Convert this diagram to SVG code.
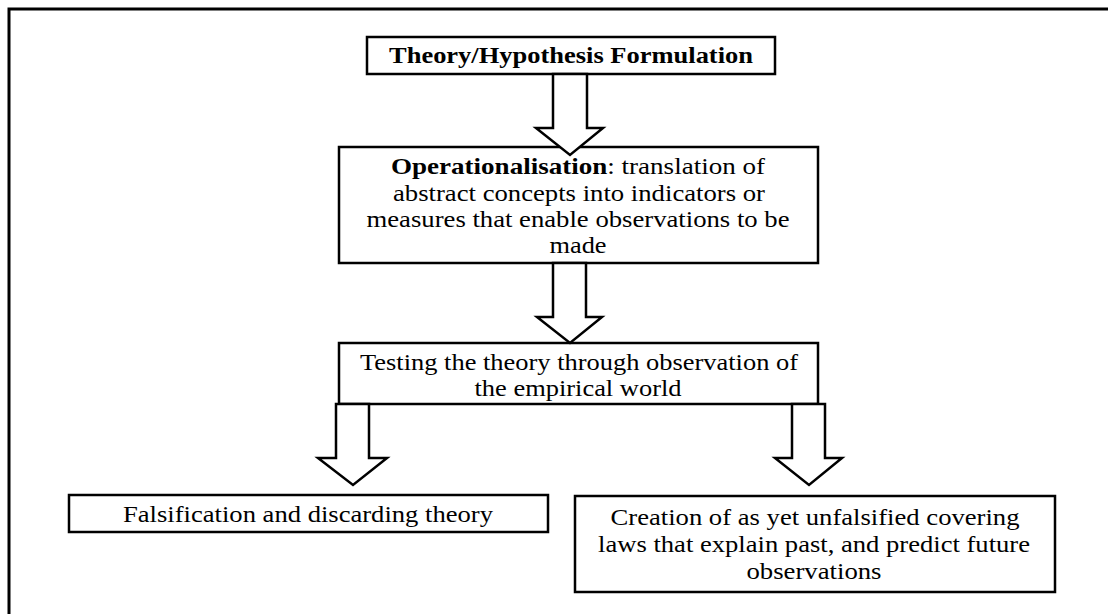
<svg xmlns="http://www.w3.org/2000/svg" width="1108" height="614" viewBox="0 0 1108 614">
  <style>
    .box { fill: #fff; stroke: #000; stroke-width: 2.5; }
    .arrow { fill: #fff; stroke: #000; stroke-width: 2.5; stroke-linejoin: miter; }
    text { font-family: "Liberation Serif", "Times New Roman", serif; font-size: 23px; fill: #000; text-anchor: middle; }
    .bold { font-weight: bold; }
  </style>
  <rect width="1108" height="614" fill="#fff"/>
  <!-- outer frame -->
  <rect x="9" y="9" width="1120" height="630" fill="none" stroke="#000" stroke-width="3"/>

  <g id="theory">
    <rect class="box" x="367" y="37" width="408" height="37"/>
    <text class="bold" x="571" y="63" textLength="364" lengthAdjust="spacingAndGlyphs">Theory/Hypothesis Formulation</text>
  </g>

  <g id="operationalisation">
    <rect class="box" x="339" y="147" width="479" height="116"/>
    <text x="578" y="174" textLength="374" lengthAdjust="spacingAndGlyphs"><tspan class="bold">Operationalisation</tspan>: translation of</text>
    <text x="579" y="201" textLength="372" lengthAdjust="spacingAndGlyphs">abstract concepts into indicators or</text>
    <text x="578" y="227" textLength="423" lengthAdjust="spacingAndGlyphs">measures that enable observations to be</text>
    <text x="578" y="253" textLength="57" lengthAdjust="spacingAndGlyphs">made</text>
  </g>

  <g id="testing">
    <rect class="box" x="339" y="343" width="479" height="61"/>
    <text x="579" y="370" textLength="438" lengthAdjust="spacingAndGlyphs">Testing the theory through observation of</text>
    <text x="578" y="396" textLength="207" lengthAdjust="spacingAndGlyphs">the empirical world</text>
  </g>

  <g id="falsification">
    <rect class="box" x="69" y="495" width="479" height="37"/>
    <text x="308" y="522" textLength="370" lengthAdjust="spacingAndGlyphs">Falsification and discarding theory</text>
  </g>

  <g id="creation">
    <rect class="box" x="575" y="496" width="480" height="96"/>
    <text x="815" y="525" textLength="409" lengthAdjust="spacingAndGlyphs">Creation of as yet unfalsified covering</text>
    <text x="814" y="552" textLength="432" lengthAdjust="spacingAndGlyphs">laws that explain past, and predict future</text>
    <text x="814" y="579" textLength="135" lengthAdjust="spacingAndGlyphs">observations</text>
  </g>

  <g id="connectors">
    <polygon class="arrow" points="553,74 587,74 587,128 603,128 570,155 536,128 553,128"/>
    <polygon class="arrow" points="553,263 586,263 586,317 602,317 570,343 537,317 553,317"/>
    <polygon class="arrow" points="336,404 369,404 369,458 387,458 353,485 318,458 336,458"/>
    <polygon class="arrow" points="792,404 825,404 825,458 842,458 809,485 775,458 792,458"/>
  </g>
</svg>
